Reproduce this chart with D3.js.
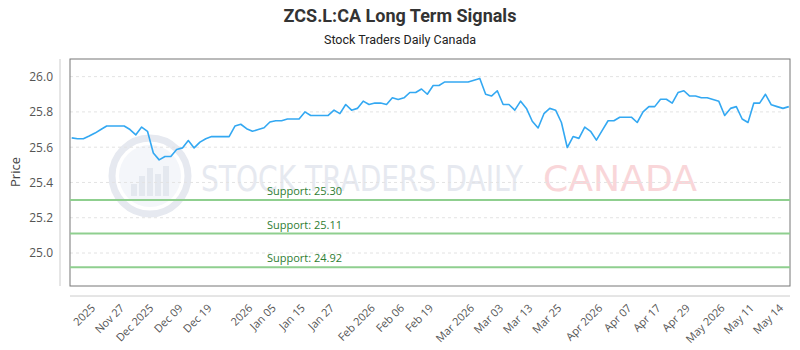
<!DOCTYPE html>
<meta charset="utf-8">
<script src="https://cdn.jsdelivr.net/npm/d3@7"></script>
<style>
  body { margin: 0; background: #fff; }
  svg text { font-family: "Open Sans", "Noto Sans", sans-serif; }
</style>
<div id="chart"></div>
<script>
// closing prices, one per session, oldest first
var prices = [
  25.653, 25.648, 25.648, 25.663, 25.68, 25.70, 25.72, 25.72, 25.72, 25.72,
  25.70, 25.67, 25.714, 25.69, 25.567, 25.528, 25.547, 25.547, 25.587, 25.596,
  25.638, 25.596, 25.629, 25.648, 25.66, 25.66, 25.66, 25.66, 25.72, 25.73,
  25.705, 25.69, 25.70, 25.71, 25.743, 25.75, 25.75, 25.76, 25.76, 25.76,
  25.80, 25.78, 25.78, 25.78, 25.78, 25.81, 25.79, 25.842, 25.81, 25.82,
  25.861, 25.842, 25.85, 25.85, 25.842, 25.88, 25.87, 25.88, 25.91, 25.91,
  25.93, 25.90, 25.95, 25.95, 25.97, 25.97, 25.97, 25.97, 25.97, 25.98,
  25.99, 25.90, 25.89, 25.92, 25.842, 25.842, 25.81, 25.861, 25.82, 25.747,
  25.709, 25.79, 25.82, 25.81, 25.74, 25.598, 25.66, 25.65, 25.714, 25.69,
  25.64, 25.695, 25.75, 25.75, 25.77, 25.77, 25.77, 25.74, 25.80, 25.83,
  25.83, 25.872, 25.872, 25.85, 25.91, 25.92, 25.89, 25.89, 25.88, 25.88,
  25.87, 25.86, 25.78, 25.82, 25.83, 25.76, 25.74, 25.85, 25.85, 25.90,
  25.84, 25.83, 25.82, 25.83
];

// x axis labels and the session they sit on
var tickIdx = [3, 8, 13, 18, 23, 30, 34, 39, 44, 51, 56, 61, 68, 73, 78, 83, 90, 95, 100, 105, 111, 116, 121];
var tickLabels = ["2025", "Nov 27", "Dec 2025", "Dec 09", "Dec 19", "2026", "Jan 05", "Jan 15", "Jan 27",
  "Feb 2026", "Feb 06", "Feb 19", "Mar 2026", "Mar 03", "Mar 13", "Mar 25", "Apr 2026", "Apr 07",
  "Apr 17", "Apr 29", "May 2026", "May 11", "May 14"];

var supports = [25.30, 25.11, 24.92];
var yTicks = [25.0, 25.2, 25.4, 25.6, 25.8, 26.0];

var width = 800, height = 350;
var plot = { left: 70, right: 790, top: 59, bottom: 286 };

var svg = d3.select('#chart').append('svg')
  .attr('width', width)
  .attr('height', height);

var x = d3.scaleLinear()
  .domain([0, prices.length - 1])
  .range([plot.left + 1.7, plot.right - 1.2]);

var y = d3.scaleLinear()
  .domain([24.813, 26.1])
  .range([plot.bottom, plot.top]);

// titles
svg.append('text')
  .attr('x', 400).attr('y', 22)
  .attr('text-anchor', 'middle')
  .style('font-family', '"Liberation Sans Narrow", "Roboto", sans-serif')
  .style('font-weight', 'bold')
  .style('font-size', '18px')
  .style('fill', '#333')
  .text('ZCS.L:CA Long Term Signals');

svg.append('text')
  .attr('x', 400).attr('y', 44)
  .attr('text-anchor', 'middle')
  .style('font-family', '"Liberation Sans Narrow", "Roboto", sans-serif')
  .style('font-size', '12.5px')
  .style('fill', '#222')
  .text('Stock Traders Daily Canada');

// watermark
var wm = svg.append('g');
wm.append('circle').attr('cx', 150).attr('cy', 176).attr('r', 38)
  .attr('fill', 'none').attr('stroke', '#e6e9f0').attr('stroke-width', 7);
wm.append('circle').attr('cx', 150).attr('cy', 176).attr('r', 31)
  .attr('fill', '#f4f6fa');
[[-16, 12], [-8, 20], [0, 28], [8, 22], [16, 30]].forEach(function (b) {
  wm.append('rect')
    .attr('x', 150 + b[0] - 3).attr('y', 196 - b[1])
    .attr('width', 6).attr('height', b[1])
    .attr('fill', '#e4e8ef');
});
wm.append('text')
  .attr('x', 201).attr('y', 191)
  .attr('textLength', 322)
  .attr('lengthAdjust', 'spacingAndGlyphs')
  .style('font-family', '"DejaVu Sans", sans-serif')
  .style('font-size', '36px')
  .style('fill', '#e6e9f0')
  .text('STOCK TRADERS DAILY');
wm.append('text')
  .attr('x', 543).attr('y', 191)
  .attr('textLength', 154)
  .attr('lengthAdjust', 'spacingAndGlyphs')
  .style('font-family', '"DejaVu Sans", sans-serif')
  .style('font-size', '36px')
  .style('fill', '#f9d6d9')
  .text('CANADA');

// grid
svg.append('g')
  .selectAll('line')
  .data(yTicks)
  .enter().append('line')
  .attr('x1', plot.left).attr('x2', plot.right - 6)
  .attr('y1', d => y(d)).attr('y2', d => y(d))
  .attr('stroke', '#e3e3e3')
  .attr('stroke-dasharray', '3,3');

// frame
svg.append('rect')
  .attr('x', plot.left).attr('y', plot.top)
  .attr('width', plot.right - plot.left)
  .attr('height', plot.bottom - plot.top)
  .attr('fill', 'none')
  .attr('stroke', '#777');

// y axis
var yAxis = svg.append('g')
  .attr('transform', 'translate(60,0)')
  .call(d3.axisLeft(y).tickValues(yTicks).tickFormat(d3.format('.1f')).tickSize(0).tickPadding(7));
yAxis.select('.domain').attr('stroke', '#ccc').attr('d', 'M0,' + plot.top + 'V' + plot.bottom);
yAxis.selectAll('text').style('font-size', '12px').style('fill', '#555');

svg.append('text')
  .attr('transform', 'translate(20,172) rotate(-90)')
  .attr('text-anchor', 'middle')
  .style('font-size', '13px')
  .style('fill', '#444')
  .text('Price');

// x axis
svg.append('line')
  .attr('x1', plot.left).attr('x2', plot.right)
  .attr('y1', 296).attr('y2', 296)
  .attr('stroke', '#ccc');

svg.append('g')
  .selectAll('text')
  .data(tickIdx)
  .enter().append('text')
  .attr('transform', d => 'translate(' + (x(d) + 4) + ',306) rotate(-45)')
  .attr('text-anchor', 'end')
  .attr('dy', '0.35em')
  .style('font-size', '11px')
  .style('fill', '#555')
  .text((d, i) => tickLabels[i]);

// support levels
var sup = svg.append('g').selectAll('g').data(supports).enter().append('g');
sup.append('line')
  .attr('x1', plot.left).attr('x2', plot.right)
  .attr('y1', d => y(d)).attr('y2', d => y(d))
  .attr('stroke', '#8fcf8f')
  .attr('stroke-width', 2);
sup.append('text')
  .attr('x', 267)
  .attr('y', d => y(d) - 5)
  .style('font-size', '11px')
  .style('fill', '#2e7d32')
  .text(d => 'Support: ' + d.toFixed(2));

// price line
svg.append('path')
  .datum(prices)
  .attr('fill', 'none')
  .attr('stroke', '#33a8f2')
  .attr('stroke-width', 1.6)
  .attr('stroke-linejoin', 'round')
  .attr('d', d3.line().x((d, i) => x(i)).y(d => y(d)));
</script>
